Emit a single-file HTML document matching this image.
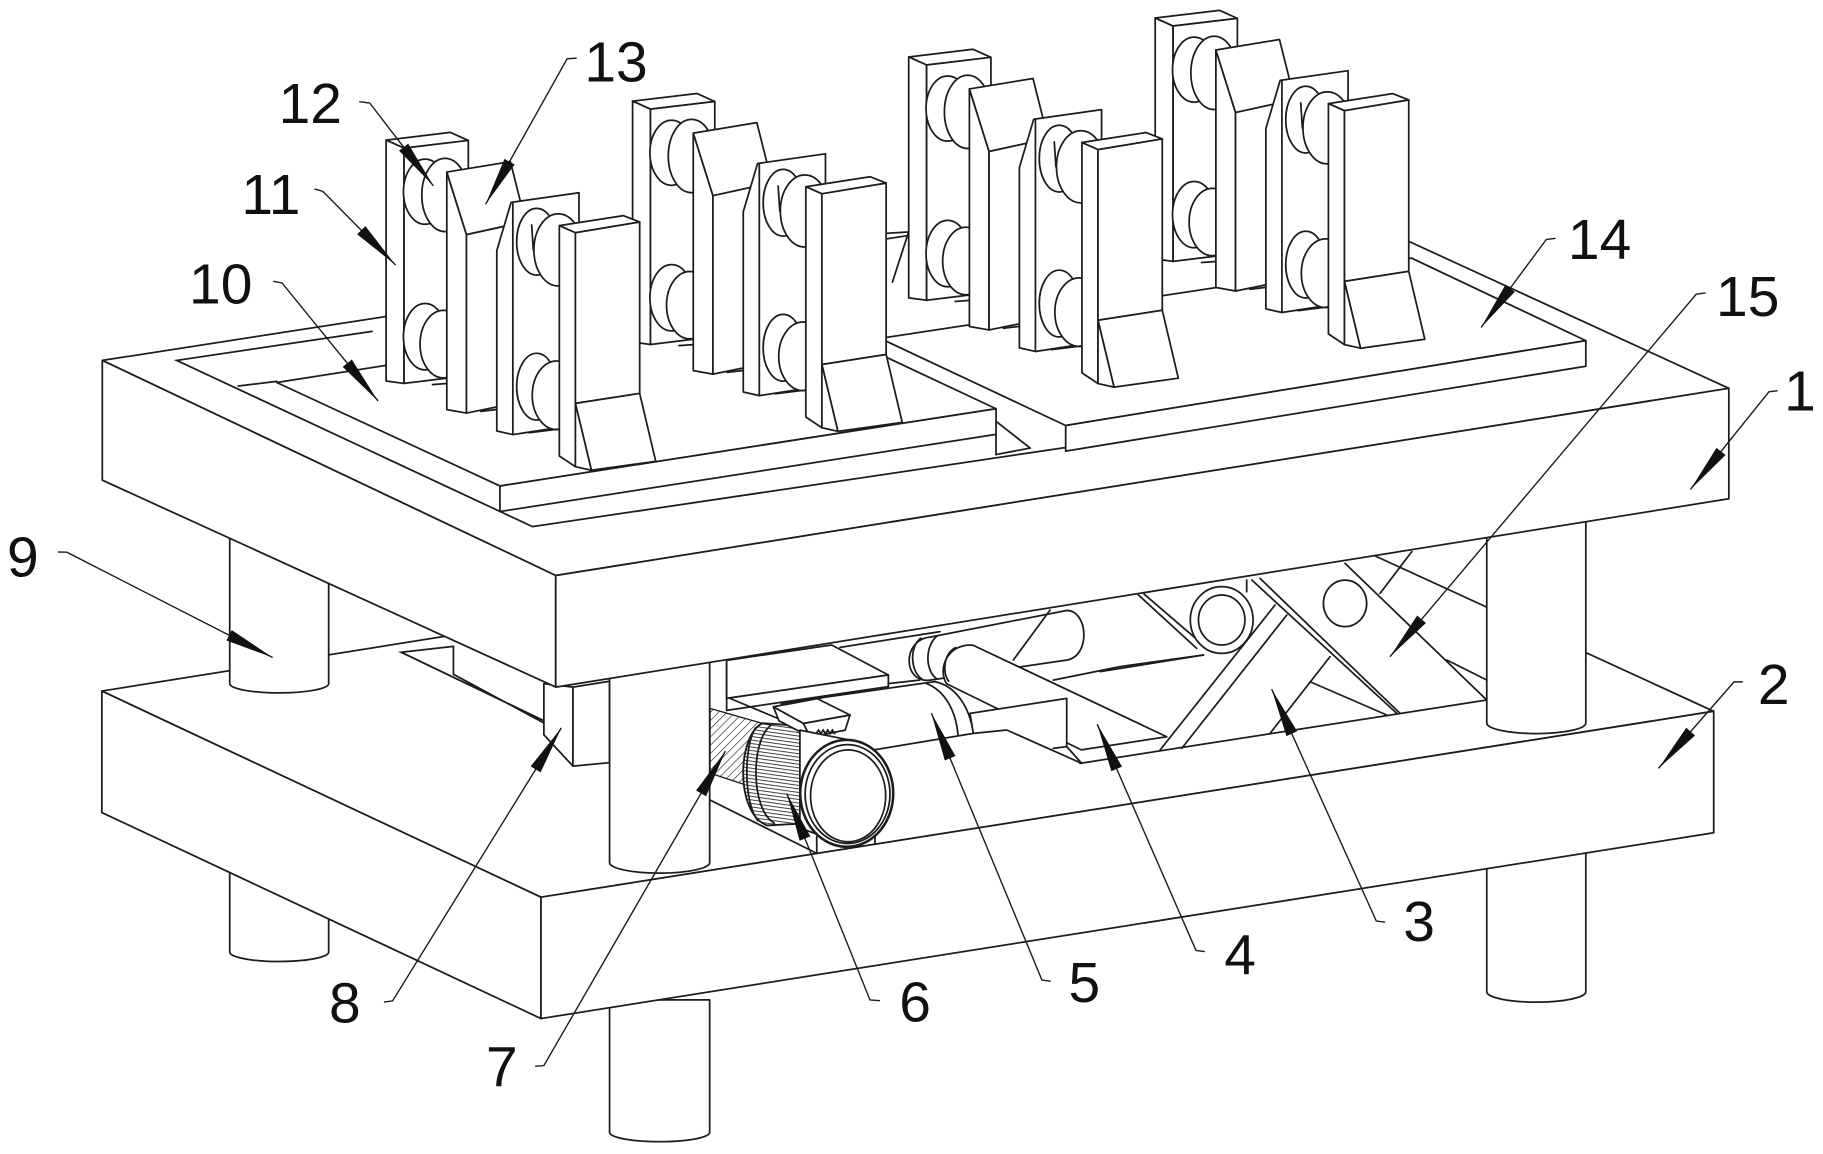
<!DOCTYPE html>
<html>
<head>
<meta charset="utf-8">
<style>
html,body{margin:0;padding:0;background:#fff;}
svg{display:block;}
.s{fill:#fff;stroke:#1c1c1c;stroke-width:1.5;stroke-linejoin:round;}
.l{fill:none;stroke:#1c1c1c;stroke-width:1.5;stroke-linecap:round;}
.ld{fill:none;stroke:#1c1c1c;stroke-width:1.2;}
.a{fill:#111;stroke:none;}
.t{font-family:"Liberation Sans",Arial,sans-serif;font-size:49px;fill:#111;}
</style>
</head>
<body>
<svg width="1823" height="1154" viewBox="0 0 1568 992.6" preserveAspectRatio="none" xmlns="http://www.w3.org/2000/svg">
<defs>
<pattern id="hatch" width="5" height="5" patternUnits="userSpaceOnUse" patternTransform="rotate(45)">
<rect width="5" height="5" fill="#fff"/>
<line x1="0" y1="0" x2="0" y2="5" stroke="#222" stroke-width="1.1"/>
</pattern>
<pattern id="teeth" width="6" height="3" patternUnits="userSpaceOnUse" patternTransform="rotate(8)">
<rect width="6" height="3" fill="#fff"/>
<line x1="0" y1="0" x2="6" y2="0" stroke="#1a1a1a" stroke-width="1.4"/>
</pattern>
</defs>

<!-- ===== Post lower segments (below lower plate) ===== -->
<path class="s" d="M197.6,690 L197.6,819 A42.5,8 0 0 0 282.7,819 L282.7,690 Z"/>
<path class="s" d="M524.3,860 L524.3,974 A43,8 0 0 0 610.4,974 L610.4,860 Z"/>
<path class="s" d="M1278.8,700 L1278.8,853 A42.6,9 0 0 0 1364,853 L1364,700 Z"/>

<!-- ===== Lower plate (2) ===== -->
<polygon class="s" points="87.6,594.4 465.3,771.7 1474,611.8 1088,434.7"/>
<polygon class="s" points="87.6,594.4 465.3,771.7 465.3,876.1 87.6,698.9"/>
<polygon class="s" points="465.3,771.7 1474,611.8 1474,716.3 465.3,876.1"/>

<!-- slot on lower plate -->
<polyline class="l" points="468,620 345,561 390,556 390,580 468,622"/>

<!-- back-left post upper -->
<path class="s" d="M197.6,440 L197.6,588 A42.5,8 0 0 0 282.7,588 L282.7,440 Z"/>

<!-- part 8 -->
<polygon class="s" points="467.8,588 492.8,591 492.8,659 467.8,632"/>
<polygon class="s" points="492.8,591 524.3,586 524.3,656 492.8,659"/>

<!-- ===== Mechanism ===== -->
<line class="l" x1="625" y1="568" x2="625" y2="601"/>
<polygon class="s" points="625,568 715.3,554.8 764.1,580.6 625,600.7"/>
<polygon class="s" points="625,600.7 764.1,580.6 764.1,590.6 625,611"/>
<line class="l" x1="722.5" y1="556.8" x2="808.5" y2="543.3"/>
<line class="l" x1="764" y1="588" x2="791" y2="585"/>

<!-- rod capsule -->
<path class="s" d="M800,548 L918,525 C936,526 938,564 918,567.7 L800,585 C776,588 776,550 800,548 Z"/>
<path class="l" d="M792,549 C782,556 783,578 793,584"/>
<path class="l" d="M806,547 C795,556 796,578 806,584"/>
<line class="l" x1="871.6" y1="567.7" x2="903.2" y2="524.7"/>
<polyline class="l" points="906,585 963.3,573.4 1035.1,563.4"/>

<!-- link arm -->
<path class="s" d="M837,555 L1003.5,633.7 L930,645 L814,588 C806,574 816,553 837,555 Z"/>
<path class="l" d="M822,557 C812,562 810,578 816,586"/>

<!-- part 5 cylinder -->
<path class="s" d="M672,605 L804.2,586.3 C822,590 834,608 837.2,630.8 L751.2,645.1 L700,652 Z"/>
<path class="l" d="M797,588 C812,594 822,610 824,632"/>

<!-- slider base (4) -->
<polygon class="s" points="834.3,613.6 917.5,600.7 917.5,642.2 930.4,656.6 865.9,627.9 837.2,630.8"/>
<line class="l" x1="906" y1="643.7" x2="917.5" y2="642.2"/>
<line class="l" x1="928.9" y1="656.6" x2="1278.8" y2="602.1"/>

<!-- scissor (3 / 15) -->
<line class="l" x1="946.2" y1="577.7" x2="1035.1" y2="563.4"/>
<line class="l" x1="979.2" y1="511.8" x2="1029.3" y2="557.7"/>
<line class="l" x1="984" y1="511" x2="1033" y2="553"/>
<line class="l" x1="997.8" y1="645.1" x2="1096.7" y2="520.4"/>
<line class="l" x1="1016.4" y1="643.7" x2="1106.8" y2="529"/>
<line class="l" x1="1076.7" y1="498.9" x2="1201.4" y2="613.6"/>
<line class="l" x1="1083.8" y1="497.5" x2="1204.2" y2="613.6"/>
<line class="l" x1="1156.9" y1="484.6" x2="1278.8" y2="602.1"/>
<line class="l" x1="1187" y1="510.4" x2="1214.3" y2="474.5"/>
<line class="l" x1="1244.4" y1="567.7" x2="1278.8" y2="584.9"/>
<line class="l" x1="1126.8" y1="586.4" x2="1192.8" y2="615"/>
<line class="l" x1="1092.4" y1="630.8" x2="1144" y2="564.8"/>
<line class="l" x1="1072.3" y1="498.9" x2="1072.3" y2="509"/>
<ellipse class="s" cx="1050.8" cy="533.3" rx="27" ry="28.7"/>
<ellipse class="s" cx="1050.8" cy="533.3" rx="20" ry="21.5"/>
<ellipse class="s" cx="1156.9" cy="519" rx="18.6" ry="20"/>

<!-- motor base lines -->
<line class="l" x1="627.9" y1="600.7" x2="672.3" y2="619.3"/>
<line class="l" x1="610.7" y1="688.1" x2="702.5" y2="734"/>
<line class="l" x1="702.5" y1="719.7" x2="702.5" y2="734"/>
<line class="l" x1="752.6" y1="716.8" x2="752.6" y2="725.4"/>

<!-- threaded screw (7) -->
<polygon points="610.7,609.3 662,624 662,682 610.7,665" fill="url(#hatch)" stroke="#1c1c1c" stroke-width="1.2"/>

<!-- gear (6) -->
<path d="M656,622 C634,632 632,700 660,710 L697,708 L697,625 Z" fill="url(#teeth)" stroke="#1c1c1c" stroke-width="1.6"/>
<path class="l" d="M663,624 C646,636 645,696 666,708"/>
<path class="l" d="M650,626 C640,640 639,690 652,706"/>

<!-- terminal box -->
<polygon class="s" points="665.2,607.9 691,622.2 697,634 670,620"/>
<polygon class="s" points="691,622.2 731.1,615 727,628 697,634"/>
<polygon class="s" points="665.2,607.9 702.5,600.7 731.1,615 691,622.2"/>
<line class="l" x1="676" y1="606" x2="708" y2="600"/>
<path class="l" d="M702,631 l2,-3 l2,3 l2,-3 l2,3 l2,-3 l2,3 l2,-3 l2,3"/>

<!-- motor body + face -->
<polygon class="s" points="688,628 733,637 733,729 688,712"/>
<ellipse cx="728.3" cy="682.4" rx="40" ry="46" fill="#fff" stroke="#1c1c1c" stroke-width="2.2"/>
<ellipse class="s" cx="729" cy="683" rx="36.5" ry="42.5"/>
<ellipse class="s" cx="729.5" cy="684.5" rx="32.3" ry="39.5"/>

<!-- front-left post upper -->
<path class="s" d="M524.3,560 L524.3,742 A43,9 0 0 0 610.4,742 L610.4,560 Z"/>
<!-- right post upper -->
<path class="s" d="M1278.8,440 L1278.8,622 A42.6,9 0 0 0 1364,622 L1364,440 Z"/>

<!-- ===== Upper plate (1) ===== -->
<polygon class="s" points="88,310 478,495 1487,334 1095,154"/>
<polygon class="s" points="88,310 478,495 478,591 88,413"/>
<polygon class="s" points="478,495 1487,334 1487,429 478,591"/>
<!-- inner rim -->
<polyline class="l" points="320,285 152,310 458,453 916,385"/>
<line class="l" x1="205" y1="332" x2="238" y2="328"/>
<line class="l" x1="757" y1="201" x2="781" y2="199.6"/>
<line class="l" x1="767.6" y1="242.6" x2="781.5" y2="199.6"/>

<!-- plate 14 -->
<polygon class="s" points="916.6,366 1364,293 1214,222 757,291"/>
<polygon class="s" points="916.6,366 1364,293 1364,315 916.6,388"/>
<line class="l" x1="856.7" y1="362.4" x2="886" y2="385.4"/>

<!-- plate 10 -->
<polygon class="s" points="238,329 430,418 856.7,351.6 666,262"/>
<polygon class="s" points="430,418 856.7,351.6 856.7,373.6 430,440"/>
<line class="l" x1="856.7" y1="373.6" x2="856.7" y2="391"/>
<line class="l" x1="856.7" y1="391" x2="886" y2="385.4"/>

<!-- ===== Block groups ===== -->
<!-- group 4 -->
<g transform="translate(661.5,-105)">
<polygon class="s" points="332.1,120.5 387.4,113.9 402.8,120.8 347.5,127.4"/>
<polygon class="s" points="332.1,120.5 347.5,127.4 347.5,329.8 332.1,327.7"/>
<polygon class="s" points="347.5,127.4 402.8,120.8 402.8,323 347.5,329.8"/>
<ellipse class="s" cx="365.6" cy="164.9" rx="18.6" ry="28"/>
<ellipse class="s" cx="382.8" cy="167.7" rx="20" ry="31.5"/>
<ellipse class="s" cx="365.6" cy="289.6" rx="18.6" ry="28.5"/>
<ellipse class="s" cx="381.3" cy="296" rx="20" ry="29"/>
<line class="l" x1="372" y1="330.8" x2="384.3" y2="329.9"/>
<polygon class="s" points="384.3,148 401.2,201.8 401.2,355.3 384.3,352.3"/>
<polygon class="s" points="384.3,148 439,139 452,190.7 401.2,201.8"/>
<polygon class="s" points="401.2,201.8 452,190.7 452,345 401.2,355.3"/>
<line class="l" x1="413.5" y1="353.8" x2="427.3" y2="352.2"/>
<polygon class="s" points="439.6,174.1 498,165.8 498,365 441.1,373.8 427.3,370.7 427.3,215.6"/>
<line class="l" x1="441.1" y1="175" x2="441.1" y2="373.8"/>
<ellipse class="s" cx="461.6" cy="207.9" rx="17.2" ry="28.7"/>
<ellipse class="s" cx="480.2" cy="215" rx="21" ry="31"/>
<line class="l" x1="457.3" y1="193.5" x2="458.7" y2="215"/>
<ellipse class="s" cx="461.6" cy="332.6" rx="17.2" ry="28.7"/>
<ellipse class="s" cx="478.8" cy="340" rx="21" ry="29.5"/>
<line class="l" x1="455" y1="372.2" x2="481" y2="369"/>
<polygon class="s" points="481.1,194.1 536.3,185.5 550.2,191 494.9,200.2"/>
<polygon class="s" points="481.1,194.1 494.9,200.2 494.9,401.4 481.1,392.2"/>
<polygon class="s" points="494.9,200.2 550.2,191 550.2,338.4 494.9,347"/>
<polygon class="s" points="494.9,347 550.2,338.4 564,396.8 508.7,404.5"/>
<polygon class="s" points="494.9,347 508.7,404.5 494.9,401.4"/>
</g>
<!-- group 3 -->
<g transform="translate(449.5,-71.5)">
<polygon class="s" points="332.1,120.5 387.4,113.9 402.8,120.8 347.5,127.4"/>
<polygon class="s" points="332.1,120.5 347.5,127.4 347.5,329.8 332.1,327.7"/>
<polygon class="s" points="347.5,127.4 402.8,120.8 402.8,323 347.5,329.8"/>
<ellipse class="s" cx="365.6" cy="164.9" rx="18.6" ry="28"/>
<ellipse class="s" cx="382.8" cy="167.7" rx="20" ry="31.5"/>
<ellipse class="s" cx="365.6" cy="289.6" rx="18.6" ry="28.5"/>
<ellipse class="s" cx="381.3" cy="296" rx="20" ry="29"/>
<line class="l" x1="372" y1="330.8" x2="384.3" y2="329.9"/>
<polygon class="s" points="384.3,148 401.2,201.8 401.2,355.3 384.3,352.3"/>
<polygon class="s" points="384.3,148 439,139 452,190.7 401.2,201.8"/>
<polygon class="s" points="401.2,201.8 452,190.7 452,345 401.2,355.3"/>
<line class="l" x1="413.5" y1="353.8" x2="427.3" y2="352.2"/>
<polygon class="s" points="439.6,174.1 498,165.8 498,365 441.1,373.8 427.3,370.7 427.3,215.6"/>
<line class="l" x1="441.1" y1="175" x2="441.1" y2="373.8"/>
<ellipse class="s" cx="461.6" cy="207.9" rx="17.2" ry="28.7"/>
<ellipse class="s" cx="480.2" cy="215" rx="21" ry="31"/>
<line class="l" x1="457.3" y1="193.5" x2="458.7" y2="215"/>
<ellipse class="s" cx="461.6" cy="332.6" rx="17.2" ry="28.7"/>
<ellipse class="s" cx="478.8" cy="340" rx="21" ry="29.5"/>
<line class="l" x1="455" y1="372.2" x2="481" y2="369"/>
<polygon class="s" points="481.1,194.1 536.3,185.5 550.2,191 494.9,200.2"/>
<polygon class="s" points="481.1,194.1 494.9,200.2 494.9,401.4 481.1,392.2"/>
<polygon class="s" points="494.9,200.2 550.2,191 550.2,338.4 494.9,347"/>
<polygon class="s" points="494.9,347 550.2,338.4 564,396.8 508.7,404.5"/>
<polygon class="s" points="494.9,347 508.7,404.5 494.9,401.4"/>
</g>
<!-- group 2 -->
<g transform="translate(212,-33.5)">
<polygon class="s" points="332.1,120.5 387.4,113.9 402.8,120.8 347.5,127.4"/>
<polygon class="s" points="332.1,120.5 347.5,127.4 347.5,329.8 332.1,327.7"/>
<polygon class="s" points="347.5,127.4 402.8,120.8 402.8,323 347.5,329.8"/>
<ellipse class="s" cx="365.6" cy="164.9" rx="18.6" ry="28"/>
<ellipse class="s" cx="382.8" cy="167.7" rx="20" ry="31.5"/>
<ellipse class="s" cx="365.6" cy="289.6" rx="18.6" ry="28.5"/>
<ellipse class="s" cx="381.3" cy="296" rx="20" ry="29"/>
<line class="l" x1="372" y1="330.8" x2="384.3" y2="329.9"/>
<polygon class="s" points="384.3,148 401.2,201.8 401.2,355.3 384.3,352.3"/>
<polygon class="s" points="384.3,148 439,139 452,190.7 401.2,201.8"/>
<polygon class="s" points="401.2,201.8 452,190.7 452,345 401.2,355.3"/>
<line class="l" x1="413.5" y1="353.8" x2="427.3" y2="352.2"/>
<polygon class="s" points="439.6,174.1 498,165.8 498,365 441.1,373.8 427.3,370.7 427.3,215.6"/>
<line class="l" x1="441.1" y1="175" x2="441.1" y2="373.8"/>
<ellipse class="s" cx="461.6" cy="207.9" rx="17.2" ry="28.7"/>
<ellipse class="s" cx="480.2" cy="215" rx="21" ry="31"/>
<line class="l" x1="457.3" y1="193.5" x2="458.7" y2="215"/>
<ellipse class="s" cx="461.6" cy="332.6" rx="17.2" ry="28.7"/>
<ellipse class="s" cx="478.8" cy="340" rx="21" ry="29.5"/>
<line class="l" x1="455" y1="372.2" x2="481" y2="369"/>
<polygon class="s" points="481.1,194.1 536.3,185.5 550.2,191 494.9,200.2"/>
<polygon class="s" points="481.1,194.1 494.9,200.2 494.9,401.4 481.1,392.2"/>
<polygon class="s" points="494.9,200.2 550.2,191 550.2,338.4 494.9,347"/>
<polygon class="s" points="494.9,347 550.2,338.4 564,396.8 508.7,404.5"/>
<polygon class="s" points="494.9,347 508.7,404.5 494.9,401.4"/>
</g>
<!-- group 1 -->
<g>
<polygon class="s" points="332.1,120.5 387.4,113.9 402.8,120.8 347.5,127.4"/>
<polygon class="s" points="332.1,120.5 347.5,127.4 347.5,329.8 332.1,327.7"/>
<polygon class="s" points="347.5,127.4 402.8,120.8 402.8,323 347.5,329.8"/>
<ellipse class="s" cx="365.6" cy="164.9" rx="18.6" ry="28"/>
<ellipse class="s" cx="382.8" cy="167.7" rx="20" ry="31.5"/>
<ellipse class="s" cx="365.6" cy="289.6" rx="18.6" ry="28.5"/>
<ellipse class="s" cx="381.3" cy="296" rx="20" ry="29"/>
<line class="l" x1="372" y1="330.8" x2="384.3" y2="329.9"/>
<polygon class="s" points="384.3,148 401.2,201.8 401.2,355.3 384.3,352.3"/>
<polygon class="s" points="384.3,148 439,139 452,190.7 401.2,201.8"/>
<polygon class="s" points="401.2,201.8 452,190.7 452,345 401.2,355.3"/>
<line class="l" x1="413.5" y1="353.8" x2="427.3" y2="352.2"/>
<polygon class="s" points="439.6,174.1 498,165.8 498,365 441.1,373.8 427.3,370.7 427.3,215.6"/>
<line class="l" x1="441.1" y1="175" x2="441.1" y2="373.8"/>
<ellipse class="s" cx="461.6" cy="207.9" rx="17.2" ry="28.7"/>
<ellipse class="s" cx="480.2" cy="215" rx="21" ry="31"/>
<line class="l" x1="457.3" y1="193.5" x2="458.7" y2="215"/>
<ellipse class="s" cx="461.6" cy="332.6" rx="17.2" ry="28.7"/>
<ellipse class="s" cx="478.8" cy="340" rx="21" ry="29.5"/>
<line class="l" x1="455" y1="372.2" x2="481" y2="369"/>
<polygon class="s" points="481.1,194.1 536.3,185.5 550.2,191 494.9,200.2"/>
<polygon class="s" points="481.1,194.1 494.9,200.2 494.9,401.4 481.1,392.2"/>
<polygon class="s" points="494.9,200.2 550.2,191 550.2,338.4 494.9,347"/>
<polygon class="s" points="494.9,347 550.2,338.4 564,396.8 508.7,404.5"/>
<polygon class="s" points="494.9,347 508.7,404.5 494.9,401.4"/>
</g>

<!-- ===== Leader lines ===== -->
<polyline class="ld" points="309,87.5 318,88.6 372.7,159.8"/>
<polyline class="ld" points="496,50 487.8,50.6 417.7,175.7"/>
<polyline class="ld" points="270.5,162.5 277.7,164.6 340.2,227.9"/>
<polyline class="ld" points="235,242 242.6,243.4 325.2,345"/>
<polyline class="ld" points="50,474.8 57.5,475 234.5,565.5"/>
<polyline class="ld" points="1338,205 1330,206 1273.9,281.7"/>
<polyline class="ld" points="1467,252 1459,253 1195.6,564.8"/>
<polyline class="ld" points="1529,336 1521.5,337 1454,421"/>
<polyline class="ld" points="1499,586.5 1491.5,586.5 1426.5,660.9"/>
<polyline class="ld" points="1191.4,793.2 1183.8,792.2 1093.8,592.8"/>
<polyline class="ld" points="1036.3,818.5 1028.7,817.5 943.7,622.9"/>
<polyline class="ld" points="903.7,844 896.2,843 801.1,613.4"/>
<polyline class="ld" points="756.9,860.7 748.3,860.1 676.7,682.4"/>
<polyline class="ld" points="460.3,917.2 467.8,916.6 624,646"/>
<polyline class="ld" points="330.2,861.9 337.7,860.9 482.8,626.1"/>

<!-- ===== Arrowheads ===== -->
<polygon class="a" points="372.7,159.8 343.2,129.6 351.1,123.5"/>
<polygon class="a" points="417.7,175.7 433.9,136.7 442.6,141.5"/>
<polygon class="a" points="340.2,227.9 307.2,201.5 314.3,194.5"/>
<polygon class="a" points="325.2,345 294.8,315.6 302.6,309.2"/>
<polygon class="a" points="234.5,565.5 194.8,550.9 199.4,542"/>
<polygon class="a" points="1273.9,281.7 1294.9,244.9 1302.9,250.9"/>
<polygon class="a" points="1195.6,564.8 1218.9,529.5 1226.5,535.9"/>
<polygon class="a" points="1454,421 1476.4,385.2 1484.2,391.4"/>
<polygon class="a" points="1426.5,660.9 1450.4,626 1457.9,632.6"/>
<polygon class="a" points="1093.8,592.8 1115.7,629 1106.5,633.2"/>
<polygon class="a" points="943.7,622.9 965.1,659.4 955.9,663.4"/>
<polygon class="a" points="801.1,613.4 821.8,650.3 812.6,654.1"/>
<polygon class="a" points="676.7,682.4 697,719.4 687.8,723.2"/>
<polygon class="a" points="624,646 607.3,684.9 598.7,679.9"/>
<polygon class="a" points="482.8,626.1 465,664.4 456.4,659.2"/>

<!-- ===== Labels ===== -->
<text class="t" x="239.6" y="106">12</text>
<text class="t" x="502.6" y="70">13</text>
<text class="t" x="207.6" y="184">11</text>
<text class="t" x="162.6" y="261">10</text>
<text class="t" x="6" y="496">9</text>
<text class="t" x="1348.6" y="223">14</text>
<text class="t" x="1476" y="272">15</text>
<text class="t" x="1534.6" y="353">1</text>
<text class="t" x="1512" y="605.5">2</text>
<text class="t" x="1207" y="809.6">3</text>
<text class="t" x="1053" y="838">4</text>
<text class="t" x="919" y="862">5</text>
<text class="t" x="773.5" y="878.8">6</text>
<text class="t" x="418" y="934.6">7</text>
<text class="t" x="283" y="879.3">8</text>
</svg>
</body>
</html>
